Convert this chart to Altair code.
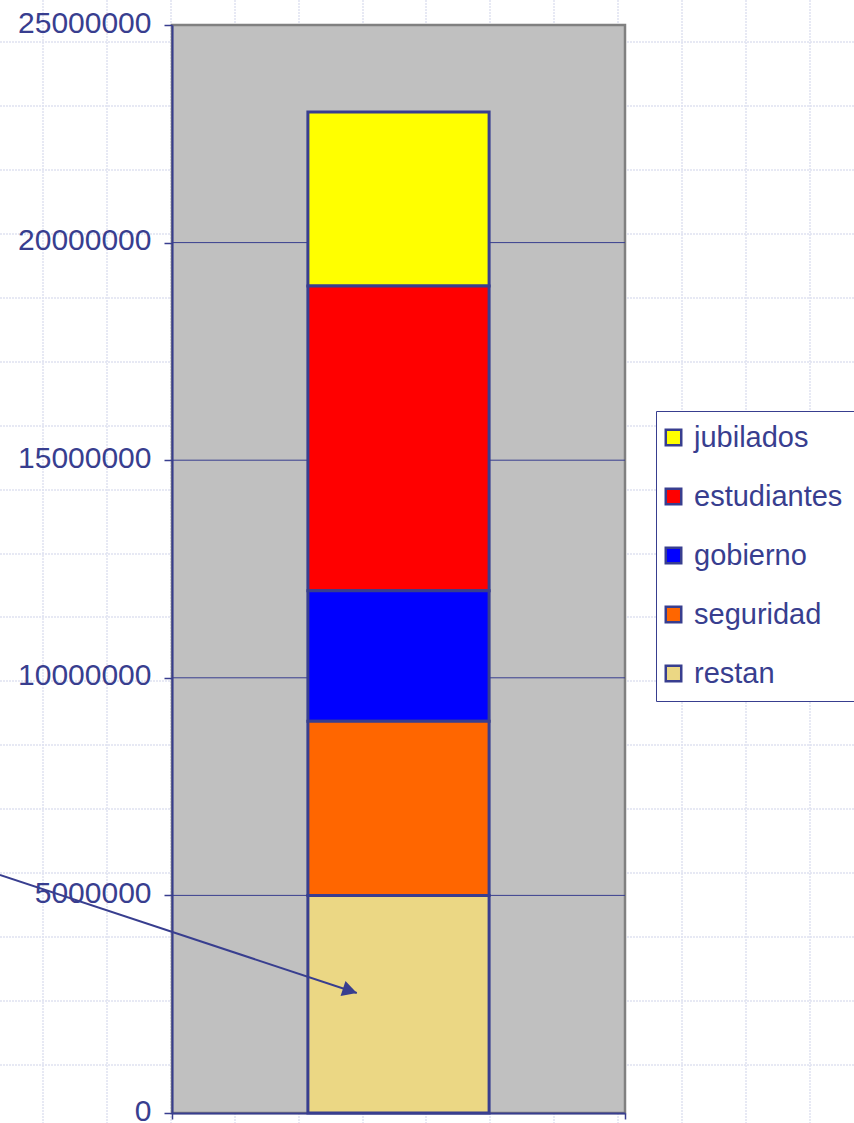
import altair as alt
import pandas as pd

# ---- data -------------------------------------------------------------
grupos = ["jubilados", "estudiantes", "gobierno", "seguridad", "restan"]
valores = [4000000, 7000000, 3000000, 4000000, 5000000]
orden_pila = [4, 3, 2, 1, 0]          # restan at the bottom of the stack
colores = ["#FFFF00", "#FF0000", "#0000FF", "#FF6600", "#EBD784"]

y_ticks = [0, 5000000, 10000000, 15000000, 20000000, 25000000]
y_max = 25000000

# annotation arrow (x as a fraction of the plot width, y in data units)
flecha_x = [-0.38, 0.408]
flecha_y = [5470000, 2757000]

# graph-paper background lines (page pixels)
papel_x = [43, 107, 171, 235, 299, 363, 426, 490, 554, 618, 682, 746, 810]
papel_y = [42, 106, 170, 234, 298, 362, 426, 490, 554, 617, 681, 745, 809,
           873, 937, 1001, 1065]

PAGE_W, PAGE_H = 854, 1123
LEFT, TOP, W, H = 172, 25, 453, 1088

NAVY = "#383E8F"
FONT = "Liberation Sans"

# ---- tables -----------------------------------------------------------
barras = pd.DataFrame({"grupo": grupos, "valor": valores,
                       "orden": orden_pila, "cat": ["total"] * len(grupos)})

papel = pd.DataFrame(
    [{"x": px, "x2": px, "y": 0, "y2": PAGE_H} for px in papel_x]
    + [{"x": 0, "x2": PAGE_W, "y": py, "y2": py} for py in papel_y]
)

guias = pd.DataFrame({"v": [t for t in y_ticks if 0 < t < y_max]})
flecha = pd.DataFrame({"x": [flecha_x[0]], "x2": [flecha_x[1]],
                       "y": [flecha_y[0]], "y2": [flecha_y[1]]})
punta = pd.DataFrame({"x": [flecha_x[1]], "y": [flecha_y[1]]})
uno = pd.DataFrame({"k": [0]})

frac = alt.Scale(domain=[0, 1], nice=False, zero=False)
yscale = alt.Scale(domain=[0, y_max], nice=False)

# ---- layers -----------------------------------------------------------
paper = alt.Chart(papel).mark_rule(
    color="#DFE2F1", strokeWidth=1.5, strokeDash=[2, 1]
).encode(
    x=alt.X("x:Q", axis=None,
            scale=alt.Scale(domain=[0, PAGE_W], range=[-LEFT, PAGE_W - LEFT])),
    x2="x2:Q",
    y=alt.Y("y:Q", axis=None,
            scale=alt.Scale(domain=[0, PAGE_H], range=[-TOP, PAGE_H - TOP])),
    y2="y2:Q",
)

fondo = alt.Chart(uno).mark_rect(
    fill="#C0C0C0", stroke="#808080", strokeWidth=2.5
).encode(
    x=alt.X(datum=0, scale=frac,
            axis=alt.Axis(values=[0, 1], labels=False, title=None, grid=False,
                          ticks=True, tickSize=6, tickColor=NAVY, tickWidth=1.5,
                          domainColor=NAVY, domainWidth=2, zindex=1)),
    x2=alt.X2(datum=1),
    y=alt.Y(datum=0, scale=yscale, axis=None),
    y2=alt.Y2(datum=y_max),
)

lineas = alt.Chart(guias).mark_rule(color=NAVY, strokeWidth=1).encode(
    x=alt.X(datum=0, scale=frac, axis=None),
    x2=alt.X2(datum=1),
    y=alt.Y("v:Q", scale=yscale, axis=None),
)

bar = alt.Chart(barras).mark_bar(stroke=NAVY, strokeWidth=3, opacity=1).encode(
    x=alt.X("cat:N", axis=None,
            scale=alt.Scale(paddingInner=0.6, paddingOuter=0.3)),
    y=alt.Y("valor:Q", stack="zero", scale=yscale,
            axis=alt.Axis(values=y_ticks, format="d", title=None, grid=False,
                          labelFont=FONT, labelFontSize=30, labelColor=NAVY,
                          labelPadding=13, labelOffset=-2, tickSize=8,
                          tickColor=NAVY, tickWidth=1.5, domainColor=NAVY,
                          domainWidth=2, labelLimit=400, zindex=1)),
    color=alt.Color(
        "grupo:N",
        scale=alt.Scale(domain=grupos, range=colores),
        legend=alt.Legend(
            title=None, orient="none", legendX=484, legendY=386,
            fillColor="white", strokeColor=NAVY, padding=12,
            labelFont=FONT, labelFontSize=29, labelColor=NAVY,
            labelOffset=6, symbolOffset=-9, symbolType="square",
            symbolSize=240, symbolStrokeColor=NAVY, symbolStrokeWidth=2.5,
            symbolOpacity=1, rowPadding=29, labelLimit=400,
        ),
    ),
    order=alt.Order("orden:Q"),
)

arrow_line = alt.Chart(flecha).mark_rule(color=NAVY, strokeWidth=2).encode(
    x=alt.X("x:Q", scale=frac, axis=None),
    x2="x2:Q",
    y=alt.Y("y:Q", scale=yscale, axis=None),
    y2="y2:Q",
)

arrow_head = alt.Chart(punta).mark_point(
    shape="M0,0 L-1,-0.55 L-1,0.55 Z", filled=True, size=841,
    angle=18, color=NAVY, opacity=1,
).encode(
    x=alt.X("x:Q", scale=frac, axis=None),
    y=alt.Y("y:Q", scale=yscale, axis=None),
)

chart = alt.layer(
    paper, fondo, lineas, bar, arrow_line, arrow_head
).resolve_scale(
    x="independent", y="independent"
).properties(
    width=W, height=H,
    autosize=alt.AutoSizeParams(type="none"),
    padding={"left": LEFT, "top": TOP, "right": PAGE_W - LEFT - W,
             "bottom": PAGE_H - TOP - H},
    background="white",
).configure_view(stroke=None)

chart.save("out.html", embed_options={"renderer": "svg", "actions": False})
